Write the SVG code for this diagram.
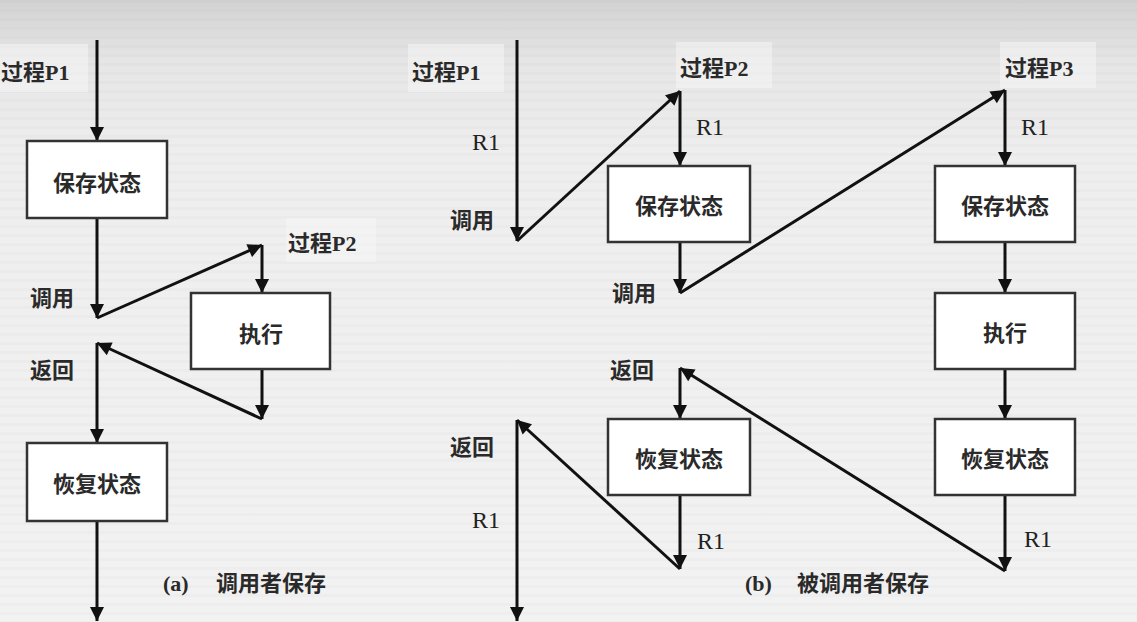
<svg xmlns="http://www.w3.org/2000/svg" width="1137" height="622" viewBox="0 0 1137 622">
  <defs>
    <linearGradient id="bg" x1="0" y1="0" x2="0" y2="1">
      <stop offset="0" stop-color="#d2d2d2"/>
      <stop offset="0.1" stop-color="#e6e6e6"/>
      <stop offset="0.25" stop-color="#eeeeee"/>
      <stop offset="1" stop-color="#f2f2f2"/>
    </linearGradient>
    <pattern id="stripes" width="8" height="9" patternUnits="userSpaceOnUse">
      <rect width="8" height="3" fill="#000" opacity="0.015"/>
    </pattern>
    <marker id="ah" viewBox="0 0 10 10" refX="10" refY="5" markerWidth="16" markerHeight="14" markerUnits="userSpaceOnUse" orient="auto">
      <path d="M0,0 L10,5 L0,10 z" fill="#111"/>
    </marker>
    <style>
      .box { fill: #ffffff; stroke: #333; stroke-width: 2.5; }
      .arr { fill: none; stroke: #111; stroke-width: 3; marker-end: url(#ah); }
      .cn { font-family: "Liberation Serif", "Noto Sans CJK SC", serif; font-size: 22px; font-weight: bold; fill: #2a2a2a; }
      .rn { font-family: "Liberation Serif", serif; font-size: 24px; fill: #222; }
      .tag { fill: #f8f8f8; opacity: 0.5; }
    </style>
  </defs>

  <rect width="1137" height="622" fill="url(#bg)"/>
  <rect width="1137" height="622" fill="url(#stripes)"/>

  <!-- soft label panels -->
  <rect class="tag" x="0" y="44" width="88" height="48"/>
  <rect class="tag" x="286" y="218" width="90" height="44"/>
  <rect class="tag" x="408" y="44" width="96" height="48"/>
  <rect class="tag" x="676" y="42" width="96" height="46"/>
  <rect class="tag" x="1000" y="42" width="96" height="46"/>

  <!-- connectors -->
  <g id="connectors">
    <!-- (a) caller saves -->
    <line class="arr" x1="97" y1="40" x2="97" y2="141"/>
    <line class="arr" x1="97" y1="218" x2="97" y2="318"/>
    <line class="arr" x1="97" y1="318" x2="262" y2="245"/>
    <line class="arr" x1="262" y1="245" x2="262" y2="293"/>
    <line class="arr" x1="262" y1="369" x2="262" y2="419"/>
    <line class="arr" x1="262" y1="419" x2="97" y2="343"/>
    <line class="arr" x1="97" y1="343" x2="97" y2="443"/>
    <line class="arr" x1="97" y1="521" x2="97" y2="621"/>

    <!-- (b) callee saves -->
    <line class="arr" x1="517" y1="40" x2="517" y2="241"/>
    <line class="arr" x1="517" y1="241" x2="680" y2="91"/>
    <line class="arr" x1="680" y1="91" x2="680" y2="166"/>
    <line class="arr" x1="680" y1="242" x2="680" y2="293"/>
    <line class="arr" x1="680" y1="293" x2="1005" y2="90"/>
    <line class="arr" x1="1005" y1="90" x2="1005" y2="166"/>
    <line class="arr" x1="1005" y1="242" x2="1005" y2="293"/>
    <line class="arr" x1="1005" y1="369" x2="1005" y2="419"/>
    <line class="arr" x1="1005" y1="495" x2="1005" y2="571"/>
    <line class="arr" x1="1005" y1="571" x2="680" y2="368"/>
    <line class="arr" x1="680" y1="368" x2="680" y2="419"/>
    <line class="arr" x1="680" y1="495" x2="680" y2="569"/>
    <line class="arr" x1="680" y1="569" x2="517" y2="420"/>
    <line class="arr" x1="517" y1="420" x2="517" y2="621"/>
  </g>

  <!-- (a) nodes -->
  <g id="a-save">
    <rect class="box" x="27" y="141" width="140" height="77"/>
    <text class="cn" x="97" y="191" text-anchor="middle">保存状态</text>
  </g>
  <g id="a-exec">
    <rect class="box" x="191" y="293" width="139" height="76"/>
    <text class="cn" x="261" y="342" text-anchor="middle">执行</text>
  </g>
  <g id="a-restore">
    <rect class="box" x="27" y="443" width="140" height="78"/>
    <text class="cn" x="97" y="492" text-anchor="middle">恢复状态</text>
  </g>

  <!-- (b) nodes -->
  <g id="b-p2-save">
    <rect class="box" x="608" y="166" width="142" height="76"/>
    <text class="cn" x="679" y="214" text-anchor="middle">保存状态</text>
  </g>
  <g id="b-p2-restore">
    <rect class="box" x="608" y="419" width="142" height="76"/>
    <text class="cn" x="679" y="467" text-anchor="middle">恢复状态</text>
  </g>
  <g id="b-p3-save">
    <rect class="box" x="935" y="166" width="140" height="76"/>
    <text class="cn" x="1005" y="214" text-anchor="middle">保存状态</text>
  </g>
  <g id="b-p3-exec">
    <rect class="box" x="935" y="293" width="140" height="76"/>
    <text class="cn" x="1005" y="341" text-anchor="middle">执行</text>
  </g>
  <g id="b-p3-restore">
    <rect class="box" x="935" y="419" width="140" height="76"/>
    <text class="cn" x="1005" y="467" text-anchor="middle">恢复状态</text>
  </g>

  <!-- labels -->
  <g id="labels">
    <text class="cn" x="1" y="80">过程P1</text>
    <text class="cn" x="30" y="306">调用</text>
    <text class="cn" x="288" y="251">过程P2</text>
    <text class="cn" x="30" y="378">返回</text>
    <text class="cn" x="163" y="591" font-size="20">(a)</text>
    <text class="cn" x="216" y="591" font-size="20">调用者保存</text>

    <text class="cn" x="412" y="80">过程P1</text>
    <text class="rn" x="472" y="150">R1</text>
    <text class="cn" x="450" y="228">调用</text>
    <text class="cn" x="680" y="76">过程P2</text>
    <text class="rn" x="696" y="135">R1</text>
    <text class="cn" x="612" y="301">调用</text>
    <text class="cn" x="1005" y="76">过程P3</text>
    <text class="rn" x="1021" y="135">R1</text>
    <text class="cn" x="610" y="378">返回</text>
    <text class="cn" x="450" y="455">返回</text>
    <text class="rn" x="472" y="528">R1</text>
    <text class="rn" x="697" y="549">R1</text>
    <text class="rn" x="1024" y="547">R1</text>
    <text class="cn" x="745" y="591" font-size="20">(b)</text>
    <text class="cn" x="797" y="591" font-size="20">被调用者保存</text>
  </g>
</svg>
